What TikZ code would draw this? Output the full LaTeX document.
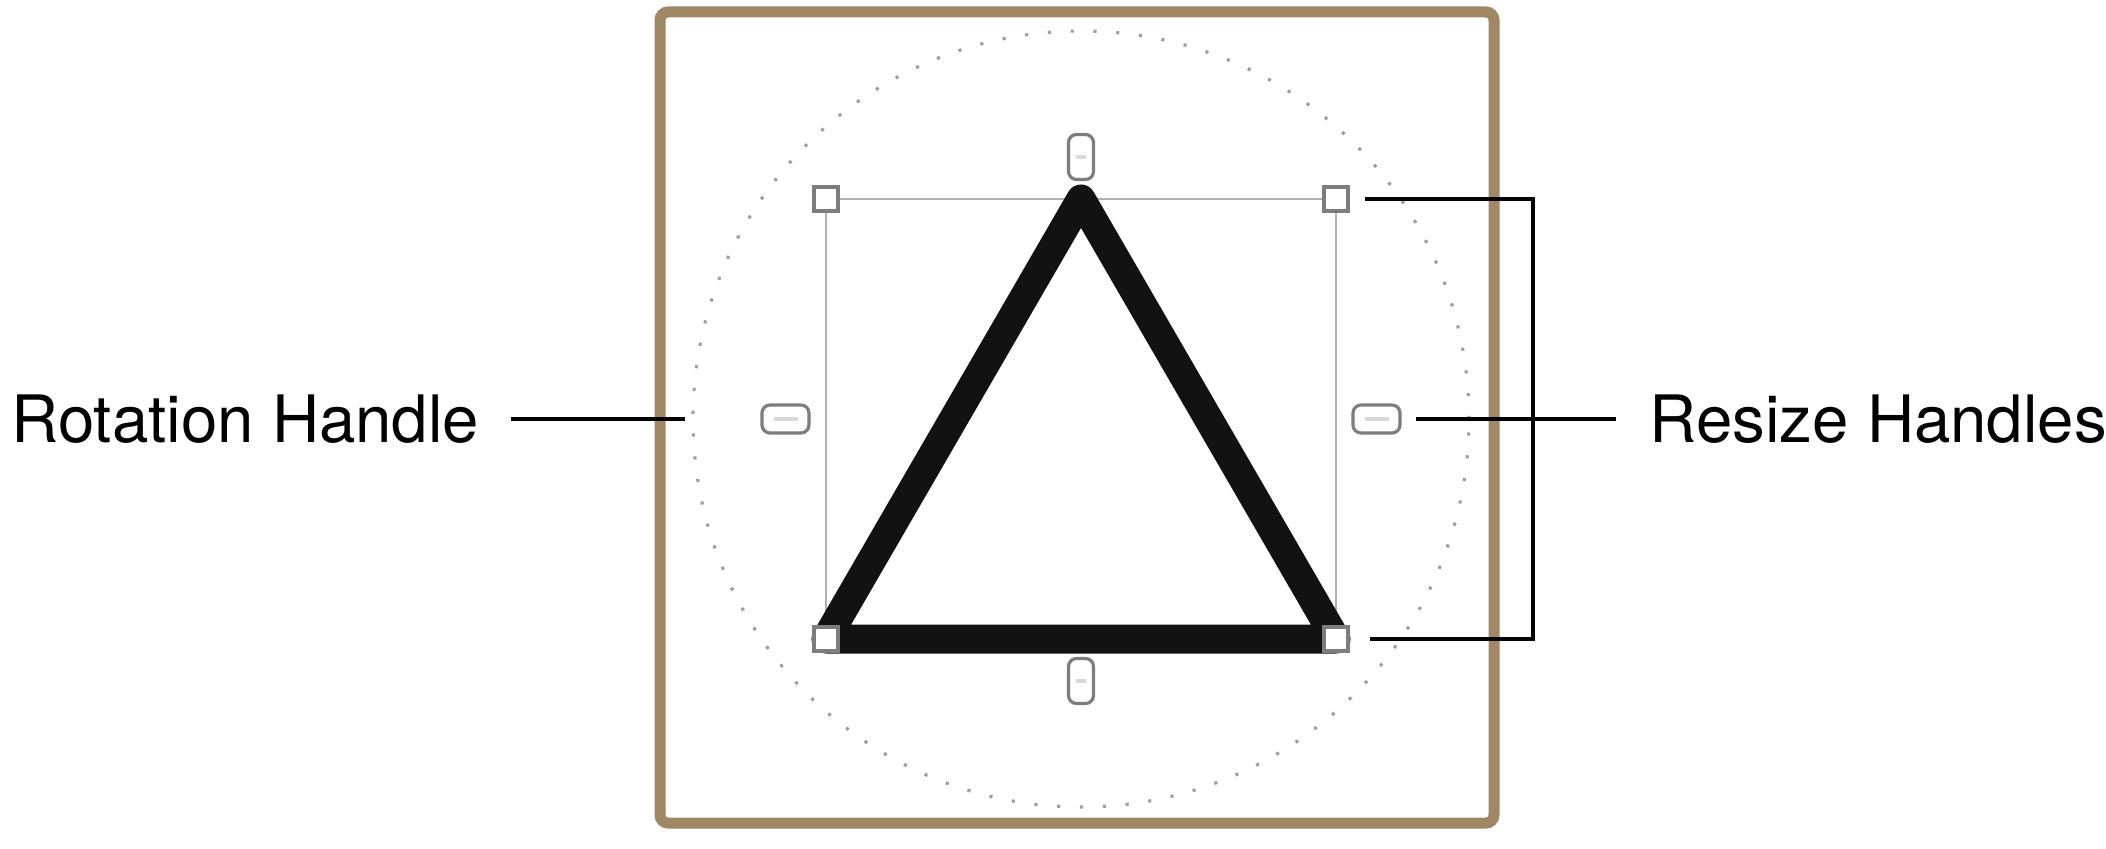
\documentclass[tikz,border=0pt]{standalone}
\usepackage{fontspec}
\setmainfont{TeX Gyre Heros}
\definecolor{framebrown}{RGB}{160,135,102}
\definecolor{handlegray}{RGB}{125,125,125}
\tikzset{
  corner handle/.style={draw=handlegray, fill=white, line width=0.9pt, minimum size=0.24cm, inner sep=0pt},
  hpill/.style={draw=handlegray, fill=white, line width=0.9pt, rounded corners=0.08cm,
    minimum width=0.47cm, minimum height=0.28cm, inner sep=0pt,
    path picture={\draw[gray!30, line width=1.4pt] ([xshift=-0.12cm]path picture bounding box.center) -- ([xshift=0.12cm]path picture bounding box.center);}},
  vpill/.style={draw=handlegray, fill=white, line width=0.9pt, rounded corners=0.08cm,
    minimum width=0.25cm, minimum height=0.45cm, inner sep=0pt,
    path picture={\draw[gray!30, line width=1.2pt] ([xshift=-0.05cm]path picture bounding box.center) -- ([xshift=0.05cm]path picture bounding box.center);}},
  ring/.style={circle, draw=gray!75, line width=0.9pt, dash pattern=on 0.9pt off 5.6pt,
    minimum size=7.76cm, inner sep=0pt, outer sep=0pt},
  label text/.style={font=\fontsize{18.6}{22}\selectfont, inner sep=0pt},
  connector/.style={draw=black, line width=0.9pt}
}
\begin{document}
\begin{tikzpicture}
	\useasboundingbox (0,0) rectangle (21.06,8.48);
	\draw[framebrown, line width=0.11cm, rounded corners=0.08cm] (6.60,0.25) rectangle (14.94,8.36);
	\node[ring] (ring) at (10.81,4.29) {};
	\draw[gray!60, line width=0.7pt] (8.26,2.09) rectangle (13.36,6.49);
	\draw[black!93, line width=0.29cm, line join=round] (10.81,6.49) -- (8.26,2.09) -- (13.36,2.09) -- cycle;
	\node[corner handle] (tl) at (8.26,6.49) {};
	\node[corner handle] (tr) at (13.36,6.49) {};
	\node[corner handle] (bl) at (8.26,2.09) {};
	\node[corner handle] (br) at (13.36,2.09) {};
	\node[hpill] (hl) at (7.855,4.29) {};
	\node[hpill] (hr) at (13.765,4.29) {};
	\node[vpill] (ht) at (10.81,6.91) {};
	\node[vpill] (hb) at (10.81,1.67) {};
	\node[label text, anchor=west] (rotlabel) at (0.11,4.29) {Rotation Handle};
	\node[label text, anchor=west] (reslabel) at (16.49,4.29) {Resize Handles};
	\coordinate (brk) at (15.33,4.29);
	\draw[connector, shorten <=0.31cm, shorten >=0.08cm] (rotlabel.east) -- (ring.west);
	\draw[connector, shorten <=0.14cm, shorten >=0.33cm] (hr.east) -- (reslabel.west);
	\draw[connector] ([xshift=0.15cm]tr.east) -| (brk) |- ([xshift=0.2cm]br.east);
\end{tikzpicture}
\end{document}
